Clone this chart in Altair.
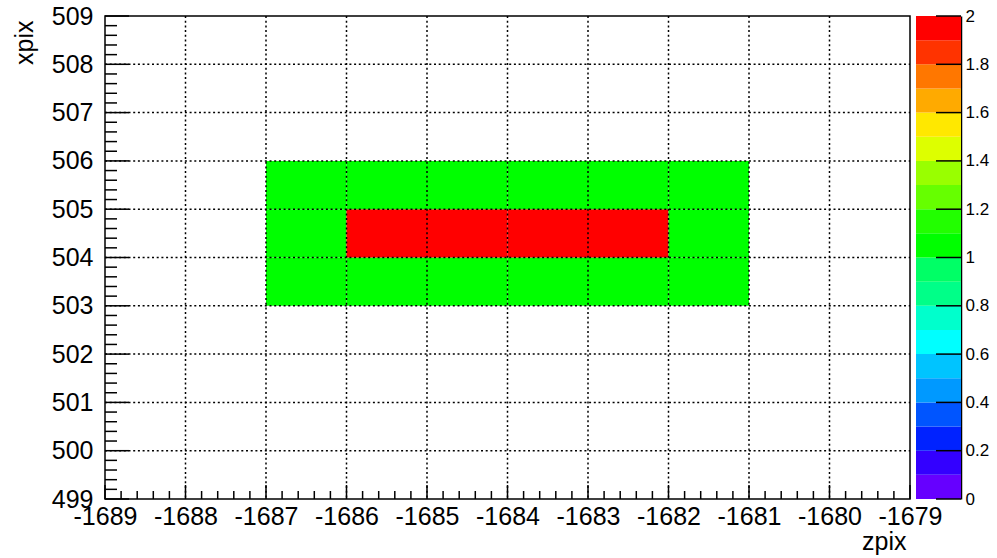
import altair as alt
import pandas as pd

# ---- data ----
z_bins = [-1687, -1686, -1685, -1684, -1683, -1682]   # zpix bin lower edges
x_bins = [503, 504, 505]                                # xpix bin lower edges
counts = [
    [1, 1, 1, 1, 1, 1],
    [1, 2, 2, 2, 2, 1],
    [1, 1, 1, 1, 1, 1],
]
z_major = [-1689, -1688, -1687, -1686, -1685, -1684, -1683, -1682, -1681, -1680, -1679]
x_major = [499, 500, 501, 502, 503, 504, 505, 506, 507, 508, 509]
z_grid = [-1688, -1687, -1686, -1685, -1684, -1683, -1682, -1681, -1680]
x_grid = [500, 501, 502, 503, 504, 505, 506, 507, 508]
pal_edges = [0.0, 0.1, 0.2, 0.3, 0.4, 0.5, 0.6, 0.7, 0.8, 0.9, 1.0,
             1.1, 1.2, 1.3, 1.4, 1.5, 1.6, 1.7, 1.8, 1.9, 2.0]
pal_colors = ["#6600ff", "#3300ff", "#0022ff", "#0055ff", "#0099ff",
              "#00c4ff", "#00ffff", "#00ffcc", "#00ff88", "#00ff66",
              "#00ff00", "#22ff00", "#66ff00", "#99ff00", "#ddff00",
              "#ffe800", "#ffaa00", "#ff7700", "#ff3300", "#ff0000"]
cbar_ticks = [0.0, 0.2, 0.4, 0.6, 0.8, 1.0, 1.2, 1.4, 1.6, 1.8, 2.0]

W, H = 805, 483
FONT = "Liberation Sans"

cells = pd.DataFrame([
    {"z": z, "z2": z + 1, "x": xv, "x2": xv + 1, "v": counts[i][j]}
    for i, xv in enumerate(x_bins) for j, z in enumerate(z_bins)
    if counts[i][j] > 0
])
minor_step = 0.2
z_minor = [round(a + k * minor_step, 1) for a in z_major[:-1] for k in range(1, 5)]
x_minor = [round(a + k * minor_step, 1) for a in x_major[:-1] for k in range(1, 5)]

bands = pd.DataFrame({"lo": pal_edges[:-1], "hi": pal_edges[1:]})
bands["mid"] = (bands["lo"] + bands["hi"]) / 2

color_scale = alt.Scale(type="threshold", domain=pal_edges[1:-1], range=pal_colors)
xs = alt.Scale(domain=[-1689, -1679], nice=False, zero=False)
ys = alt.Scale(domain=[499, 509], nice=False, zero=False)

x_axis = alt.Axis(values=z_major, labelExpr="'' + datum.value", grid=False, domain=False,
                  ticks=True, tickSize=0, labelPadding=5, labelFontSize=25, labelFont=FONT,
                  labelColor="black", labelOverlap=False, labelFlush=False,
                  title="zpix", titleFont=FONT, titleFontSize=25, titleFontWeight="normal",
                  titleColor="black", titleX=801, titleY=50, titleAlign="right",
                  titleBaseline="alphabetic", titleAnchor="end")
y_axis = alt.Axis(values=x_major, labelExpr="'' + datum.value", grid=False, domain=False,
                  ticks=True, tickSize=0, labelPadding=12, labelFontSize=25, labelFont=FONT,
                  labelColor="black", labelOverlap=False, labelFlush=False,
                  labelBaseline="middle",
                  title="xpix", titleFont=FONT, titleFontSize=25, titleFontWeight="normal",
                  titleColor="black", titleX=-73, titleY=4, titleAngle=270,
                  titleAlign="right", titleBaseline="alphabetic")

heat = alt.Chart(cells).mark_rect().encode(
    x=alt.X("z:Q", scale=xs, axis=x_axis),
    x2="z2:Q",
    y=alt.Y("x:Q", scale=ys, axis=y_axis),
    y2="x2:Q",
    color=alt.Color("v:Q", scale=color_scale, legend=None),
)

dash = [2, 2.7]
vgrid = alt.Chart(pd.DataFrame({"z": z_grid})).mark_rule(
    color="black", strokeWidth=1.5, strokeDash=dash).encode(
    x=alt.X("z:Q", scale=xs), y=alt.value(0), y2=alt.value(H))
hgrid = alt.Chart(pd.DataFrame({"x": x_grid})).mark_rule(
    color="black", strokeWidth=1.5, strokeDash=dash).encode(
    y=alt.Y("x:Q", scale=ys), x=alt.value(0), x2=alt.value(W))

xt_major = alt.Chart(pd.DataFrame({"z": z_major})).mark_rule(
    color="black", strokeWidth=1.5).encode(
    x=alt.X("z:Q", scale=xs), y=alt.value(H), y2=alt.value(H - 14))
xt_minor = alt.Chart(pd.DataFrame({"z": z_minor})).mark_rule(
    color="black", strokeWidth=1.5).encode(
    x=alt.X("z:Q", scale=xs), y=alt.value(H), y2=alt.value(H - 8))
yt_major = alt.Chart(pd.DataFrame({"x": x_major})).mark_rule(
    color="black", strokeWidth=1.5).encode(
    y=alt.Y("x:Q", scale=ys), x=alt.value(0), x2=alt.value(24))
yt_minor = alt.Chart(pd.DataFrame({"x": x_minor})).mark_rule(
    color="black", strokeWidth=1.5).encode(
    y=alt.Y("x:Q", scale=ys), x=alt.value(0), x2=alt.value(12))

main = alt.layer(heat, vgrid, hgrid, xt_major, xt_minor, yt_major, yt_minor)

# ---- colour bar ----
CB_L, CB_R = 811, 856
cs = alt.Scale(domain=[0, 2], nice=False, zero=False)
cb_axis = alt.Axis(orient="right", offset=CB_R - W, values=cbar_ticks, format="~g",
                   grid=False, domain=True, domainColor="black", domainWidth=1.5,
                   ticks=True, tickSize=0, labelPadding=4, labelFontSize=17,
                   labelFont=FONT, labelColor="black", labelOverlap=False,
                   labelFlush=False, labelBaseline="middle", title=None)
cb_rects = alt.Chart(bands).mark_rect(strokeWidth=0).encode(
    y=alt.Y("lo:Q", scale=cs, axis=cb_axis),
    y2="hi:Q",
    x=alt.value(CB_L), x2=alt.value(CB_R),
    color=alt.Color("mid:Q", scale=color_scale, legend=None),
)
cb_ticks = alt.Chart(pd.DataFrame({"t": cbar_ticks})).mark_rule(
    color="black", strokeWidth=1.5).encode(
    y=alt.Y("t:Q", scale=cs), x=alt.value(CB_R - 25), x2=alt.value(CB_R))
cbar = alt.layer(cb_rects, cb_ticks)

chart = alt.layer(main, cbar).resolve_scale(y="independent").properties(
    width=W, height=H,
    padding={"left": 105, "top": 16, "right": 87, "bottom": 59},
    autosize=alt.AutoSizeParams(type="none"),
    background="white",
).configure_view(stroke="black", strokeWidth=1.5)

chart.save("out.html", embed_options={"renderer": "svg", "actions": False})
